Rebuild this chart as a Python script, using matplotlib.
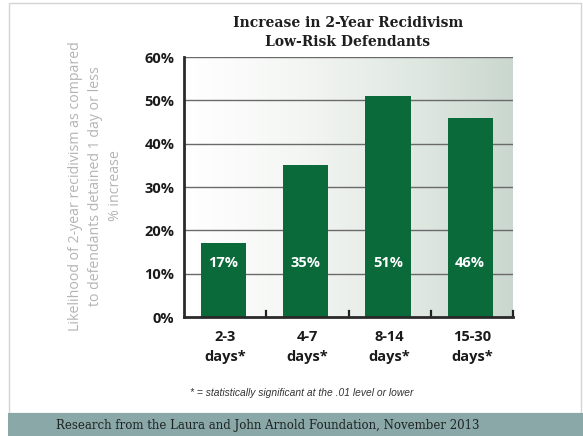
import numpy as np
import matplotlib.pyplot as plt
from matplotlib.patches import Rectangle
from matplotlib.colors import LinearSegmentedColormap

# Данные
categories = ["2-3\ndays*", "4-7\ndays*", "8-14\ndays*", "15-30\ndays*"]
values = [17, 35, 51, 46]
yticks = [0, 10, 20, 30, 40, 50, 60]

W, H = 583, 436
fig = plt.figure(figsize=(W / 100, H / 100), dpi=100)

# рамка и нижняя плашка
fig.patches.append(Rectangle((9 / W, 23 / H), 572 / W, 410 / H, transform=fig.transFigure,
                             fill=False, edgecolor="#d4d4d4", linewidth=1.0))
fig.patches.append(Rectangle((8 / W, 0), 575 / W, 23 / H, transform=fig.transFigure,
                             facecolor="#8aa8a7", edgecolor="none"))
fig.text(268 / W, 11 / H, "Research from the Laura and John Arnold Foundation, November 2013",
         ha="center", va="center", family="DejaVu Serif", fontsize=8.5, color="#1e2424")

ax = fig.add_axes([184 / W, 1 - 317 / H, (513 - 184) / W, (317 - 57) / H])

# фон с градиентом слева направо
cmap = LinearSegmentedColormap.from_list("bg", [(0, "#ffffff"), (0.35, "#f4f6f4"),
                                                (0.7, "#e0e8e2"), (1, "#cad7ce")])
grad = np.linspace(0, 1, 256).reshape(1, -1)
ax.imshow(grad, cmap=cmap, aspect="auto", extent=(-0.5, 3.5, 0, 60), zorder=0)

x = np.arange(len(categories))
ax.bar(x - 0.02, values, width=0.55, color="#0a6a3a", zorder=3)
for xi, v in zip(x, values):
    ax.text(xi - 0.02, 12.5, f"{v}%", ha="center", va="center", color="white",
            family="Open Sans", fontweight="bold", fontsize=10.5, zorder=4)

ax.set_xlim(-0.5, 3.5)
ax.set_ylim(0, 60)
ax.set_yticks(yticks)
ax.set_yticklabels([f"{t}%" for t in yticks], family="Open Sans", fontweight="bold",
                   fontsize=10.5, color="#1a1a1a", va="center_baseline")
for t in yticks[1:]:
    ax.axhline(t, color="#6a6a6a", linewidth=1.0, zorder=1)

ax.set_xticks(x)
ax.set_xticklabels(categories, family="Open Sans", fontweight="bold", fontsize=10.5,
                   color="#1a1a1a", linespacing=1.55)
ax.tick_params(axis="x", length=0, pad=9)
ax.tick_params(axis="y", length=0, pad=7)

# засечки на границах категорий
for b in np.arange(0.5, 4.0, 1.0):
    ax.plot([b, b], [0, 1.5], color="#222222", linewidth=1.6, zorder=5, clip_on=False)

for s in ["top", "right"]:
    ax.spines[s].set_visible(False)
for s in ["left", "bottom"]:
    ax.spines[s].set_color("#2a2a2a")
    ax.spines[s].set_linewidth(2.0)
    ax.spines[s].set_zorder(5)

ax.set_ylabel("Likelihood of 2-year recidivism as compared\nto defendants detained 1 day or less\n% increase",
              family="Open Sans", fontsize=10.2, color="#b4b4b4", linespacing=1.45)
ax.yaxis.set_label_coords(-0.185, 0.505)

fig.text(348 / W, 1 - 23 / H, "Increase in 2-Year Recidivism", ha="center", va="center",
         family="DejaVu Serif", fontweight="bold", fontsize=10, color="#1e1e1e")
fig.text(348 / W, 1 - 42 / H, "Low-Risk Defendants", ha="center", va="center",
         family="DejaVu Serif", fontweight="bold", fontsize=10, color="#1e1e1e")

fig.text(302 / W, 1 - 393 / H, "* = statistically significant at the .01 level or lower",
         ha="center", va="center", family="Liberation Sans", style="italic", fontsize=7.4,
         color="#333333")

fig.savefig("out.png", dpi=100)
